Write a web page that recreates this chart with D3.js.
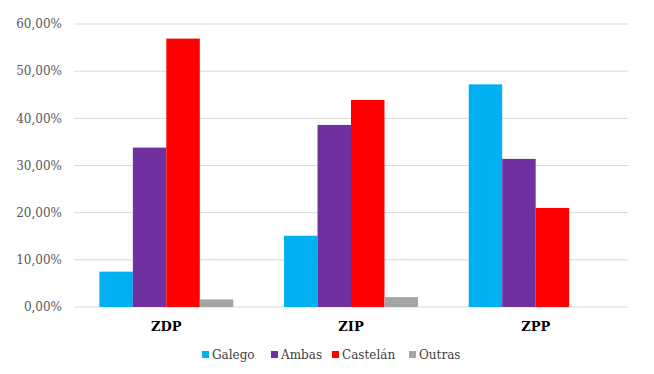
<!DOCTYPE html>
<html>
<head>
<meta charset="utf-8">
<script src="https://cdn.jsdelivr.net/npm/d3@7"></script>
<style>
  body { margin: 0; background: #fff; }
  svg { display: block; }
</style>
</head>
<body>
<div id="chart"></div>
<script>
const categories = ["ZDP", "ZIP", "ZPP"]
const series = ["Galego", "Ambas", "Castelán", "Outras"]
const colors = ["#00B0F0", "#7030A0", "#FF0000", "#A5A5A5"]
// percentages per series, in category order
const galego = [7.5, 15.1, 47.2]
const ambas = [33.8, 38.6, 31.4]
const castelan = [56.9, 43.9, 21.0]
const outras = [1.6, 2.1, 0]
const yTicks = [0, 10, 20, 30, 40, 50, 60]

const values = [galego, ambas, castelan, outras]

const width = 654, height = 374
const margin = {top: 24, right: 26, bottom: 67, left: 74}
const serif = "'DejaVu Serif', serif"

const svg = d3.select("#chart").append("svg")
    .attr("width", width)
    .attr("height", height)
    .attr("font-family", serif)

const x0 = d3.scaleBand()
    .domain(categories)
    .range([margin.left, width - margin.right])

const gap = x0.bandwidth() * 0.275
const x1 = d3.scaleBand()
    .domain(series)
    .range([gap / 2, x0.bandwidth() - gap / 2])

const y = d3.scaleLinear()
    .domain([0, 60])
    .range([height - margin.bottom, margin.top])

// gridlines
svg.append("g")
    .selectAll("line")
    .data(yTicks)
    .join("line")
    .attr("x1", margin.left)
    .attr("x2", width - margin.right)
    .attr("y1", (d) => y(d))
    .attr("y2", (d) => y(d))
    .attr("stroke", "#D9D9D9")
    .attr("stroke-width", 1)

// y tick labels
const fmt = (d) => d.toFixed(2).replace(".", ",") + "%"
svg.append("g")
    .selectAll("text")
    .data(yTicks)
    .join("text")
    .attr("x", 62)
    .attr("y", (d) => y(d))
    .attr("dy", "0.35em")
    .attr("text-anchor", "end")
    .attr("font-size", 12)
    .attr("fill", "#595959")
    .text(fmt)

// bars
const rows = []
categories.forEach((c, ci) => {
    series.forEach((s, si) => {
        rows.push({cat: c, ser: s, val: values[si][ci], color: colors[si]})
    })
})

svg.append("g")
    .selectAll("rect")
    .data(rows.filter((d) => d.val > 0))
    .join("rect")
    .attr("x", (d) => x0(d.cat) + x1(d.ser))
    .attr("y", (d) => y(d.val))
    .attr("width", x1.bandwidth())
    .attr("height", (d) => y(0) - y(d.val))
    .attr("fill", (d) => d.color)

// category labels
svg.append("g")
    .selectAll("text")
    .data(categories)
    .join("text")
    .attr("x", (d) => x0(d) + x0.bandwidth() / 2)
    .attr("y", 331)
    .attr("text-anchor", "middle")
    .attr("font-size", 13)
    .attr("font-weight", "bold")
    .attr("fill", "#000")
    .text((d) => d)

// legend
const legendX = [202, 271, 332, 409]
const legend = svg.append("g")
    .selectAll("g")
    .data(series)
    .join("g")
    .attr("transform", (d, i) => `translate(${legendX[i]},355)`)

legend.append("rect")
    .attr("x", 0)
    .attr("y", -4)
    .attr("width", 7)
    .attr("height", 7)
    .attr("fill", (d, i) => colors[i])

legend.append("text")
    .attr("x", 10)
    .attr("y", 0)
    .attr("dy", "0.35em")
    .attr("font-size", 12)
    .attr("fill", "#404040")
    .text((d) => d)
</script>
</body>
</html>
